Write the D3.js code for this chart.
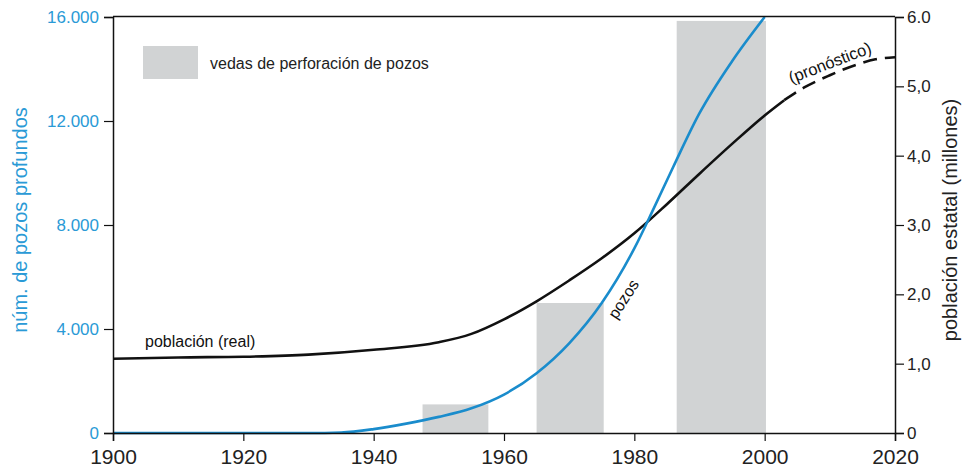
<!DOCTYPE html>
<html>
<head>
<meta charset="utf-8">
<script src="https://cdn.jsdelivr.net/npm/d3@7"></script>
<style>
  body { margin: 0; background: #fff; }
  svg { font-family: "Liberation Sans", Arial, sans-serif; }
</style>
</head>
<body>
<div id="chart"></div>
<script>
const width = 965;
const height = 467;
const margin = { top: 17, right: 70, bottom: 34, left: 113 };

// drilling bans (vedas)
const vedaStart = [1947.5, 1965, 1986.5];
const vedaEnd = [1957.6, 1975.3, 2000.2];
const vedaWells = [1100, 5000, 15850];

// deep wells
const wellYears = [1900, 1930, 1935, 1940, 1945, 1950, 1955, 1960, 1965, 1970, 1975, 1980, 1983, 1986, 1990, 1995, 2000];
const wellCount = [0, 0, 20, 150, 360, 620, 950, 1480, 2300, 3450, 5000, 7100, 8650, 10250, 12300, 14300, 16000];

// state population (millions), real
const popYears = [1900, 1910, 1920, 1930, 1940, 1950, 1955, 1960, 1965, 1970, 1975, 1980, 1985, 1990, 1995, 2000, 2003];
const popValues = [1.07, 1.09, 1.10, 1.13, 1.20, 1.31, 1.43, 1.64, 1.90, 2.20, 2.52, 2.88, 3.30, 3.74, 4.17, 4.58, 4.80];

// forecast
const forecastYears = [2003, 2006, 2010, 2014, 2017, 2020];
const forecastValues = [4.80, 4.98, 5.16, 5.31, 5.39, 5.42];

const leftTicks = [0, 4000, 8000, 12000, 16000];
const rightTicks = [0, 1, 2, 3, 4, 5, 6];
const rightLabels = ["0", "1,0", "2,0", "3,0", "4,0", "5,0", "6.0"];
const yearTicks = [1900, 1920, 1940, 1960, 1980, 2000, 2020];

const blue = "#1a8ccc";
const blueText = "#2a9ad6";

var svg = d3.select("#chart").append("svg")
  .attr("width", width)
  .attr("height", height);

var x = d3.scaleLinear().domain([1900, 2020]).range([margin.left, width - margin.right]);
var yWells = d3.scaleLinear().domain([0, 16000]).range([height - margin.bottom, margin.top]);
var yPop = d3.scaleLinear().domain([0, 6]).range([height - margin.bottom, margin.top]);

const fmtThousands = (d) => d === 0 ? "0" : d3.format(",")(d).replace(/,/g, ".");

// bars
svg.selectAll("rect.veda").data(vedaStart).enter().append("rect")
  .attr("class", "veda")
  .attr("x", (d) => x(d))
  .attr("width", (d, i) => x(vedaEnd[i]) - x(d))
  .attr("y", (d, i) => yWells(vedaWells[i]))
  .attr("height", (d, i) => yWells(0) - yWells(vedaWells[i]))
  .style("fill", "#d1d3d4");

// legend
svg.append("rect")
  .attr("x", 143).attr("y", 46).attr("width", 55).attr("height", 33)
  .style("fill", "#d1d3d4");
svg.append("text")
  .attr("x", 210).attr("y", 69)
  .style("font-size", "16px").style("fill", "#222")
  .text("vedas de perforación de pozos");

// lines
var line = d3.line().curve(d3.curveMonotoneX);

svg.append("path")
  .attr("d", line(popYears.map((d, i) => [x(d), yPop(popValues[i])])))
  .style("fill", "none").style("stroke", "#111").style("stroke-width", 2.6);

svg.append("path")
  .attr("d", line(forecastYears.map((d, i) => [x(d), yPop(forecastValues[i])])))
  .style("fill", "none").style("stroke", "#111").style("stroke-width", 2.6)
  .style("stroke-dasharray", "14,8");

svg.append("path")
  .attr("d", line(wellYears.map((d, i) => [x(d), yWells(wellCount[i])])))
  .style("fill", "none").style("stroke", blue).style("stroke-width", 2.6);

// top frame line
svg.append("line")
  .attr("x1", x(1900)).attr("x2", x(2020))
  .attr("y1", margin.top - 0.5).attr("y2", margin.top - 0.5)
  .style("stroke", "#111").style("stroke-width", 1.5);

// axes
var leftAxis = svg.append("g")
  .attr("transform", "translate(" + margin.left + ",0)")
  .call(d3.axisLeft(yWells).tickValues(leftTicks).tickFormat(fmtThousands).tickSize(9).tickPadding(5));
leftAxis.selectAll("text").style("fill", blueText).style("font-size", "17px");

var rightAxis = svg.append("g")
  .attr("transform", "translate(" + (width - margin.right) + ",0)")
  .call(d3.axisRight(yPop).tickValues(rightTicks).tickFormat((d, i) => rightLabels[i]).tickSize(9).tickPadding(3));
rightAxis.selectAll("text").style("fill", "#222").style("font-size", "17px");

var bottomAxis = svg.append("g")
  .attr("transform", "translate(0," + (height - margin.bottom) + ")")
  .call(d3.axisBottom(x).tickValues(yearTicks).tickFormat(d3.format("d")).tickSize(8).tickPadding(8));
bottomAxis.selectAll("text").style("fill", "#222").style("font-size", "21px");

[leftAxis, rightAxis, bottomAxis].forEach((g) => {
  g.select(".domain").style("stroke", "#111").style("stroke-width", 1.5);
  g.selectAll(".tick line").style("stroke", "#111").style("stroke-width", 1.2);
});

// axis titles
svg.append("text")
  .attr("transform", "translate(27,220) rotate(-90)")
  .attr("text-anchor", "middle")
  .style("font-size", "20px").style("fill", blueText)
  .text("núm. de pozos profundos");

svg.append("text")
  .attr("transform", "translate(957,220) rotate(-90)")
  .attr("text-anchor", "middle")
  .style("font-size", "20px").style("fill", "#222")
  .text("población estatal (millones)");

// curve labels
svg.append("text")
  .attr("x", 145).attr("y", 347)
  .style("font-size", "16px").style("fill", "#111")
  .text("población (real)");

svg.append("text")
  .attr("transform", "translate(628,302) rotate(-57)")
  .attr("text-anchor", "middle")
  .style("font-size", "16px").style("fill", "#111")
  .text("pozos");

svg.append("text")
  .attr("transform", "translate(832,68) rotate(-21)")
  .attr("text-anchor", "middle")
  .style("font-size", "16.5px").style("fill", "#111")
  .text("(pronóstico)");
</script>
</body>
</html>
